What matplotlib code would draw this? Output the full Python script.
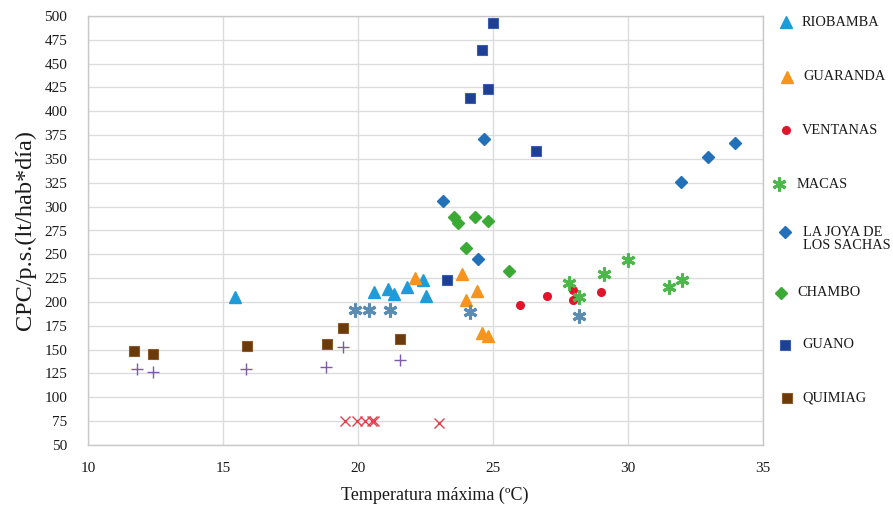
import matplotlib
matplotlib.use("Agg")
import matplotlib.pyplot as plt
from matplotlib.lines import Line2D

plt.rcParams['font.family'] = ['Liberation Serif', 'DejaVu Serif']

# ---- data (Temperatura máxima, CPC) ----
riobamba_x = [15.45, 20.6, 21.1, 21.35, 21.8, 22.4, 22.5]
riobamba_y = [205, 210, 214, 208, 216, 223, 206]
guaranda_x = [22.1, 23.85, 24.4, 24.0, 24.6, 24.8]
guaranda_y = [225, 229, 212, 202, 167, 164]
ventanas_x = [26.0, 27.0, 27.95, 27.95, 29.0]
ventanas_y = [197, 206, 213, 202, 211]
macas_x = [27.8, 28.2, 29.1, 30.0, 31.5, 32.0]
macas_y = [220, 205, 229, 244, 216, 223]
lajoya_x = [23.15, 24.45, 24.65, 31.95, 32.95, 33.95]
lajoya_y = [306, 245, 371, 326, 352, 367]
chambo_x = [23.55, 23.7, 24.35, 24.8, 24.0, 25.6]
chambo_y = [289, 283, 289, 285, 257, 233]
guano_x = [25.0, 24.6, 24.8, 24.15, 26.6, 23.3]
guano_y = [493, 464, 423, 414, 358, 223]
quimiag_x = [11.7, 12.4, 15.9, 18.85, 19.45, 21.55]
quimiag_y = [149, 145, 154, 156, 173, 161]
plus_x = [11.8, 12.4, 15.85, 18.8, 19.45, 21.55]
plus_y = [130, 127, 130, 132, 153, 139]
cross_x = [19.5, 19.95, 20.25, 20.5, 20.6, 23.0]
cross_y = [75, 75, 75, 75, 75, 73]
steel_x = [19.9, 20.4, 21.2, 24.15, 28.2]
steel_y = [192, 192, 192, 189, 185]

x_ticks = [10, 15, 20, 25, 30, 35]
y_ticks = list(range(50, 501, 25))

ASTER = (6, 2, 0)

series = [
    ("RIOBAMBA", riobamba_x, riobamba_y, dict(marker='^', color='#1f9bd7', ms=9, mec='#1f9bd7')),
    ("GUARANDA", guaranda_x, guaranda_y, dict(marker='^', color='#f7941d', ms=9, mec='#f7941d')),
    ("VENTANAS", ventanas_x, ventanas_y, dict(marker='o', color='#e0142a', ms=5.5, mec='#e0142a')),
    ("MACAS", macas_x, macas_y, dict(marker=ASTER, color='#4cb84c', ms=10, mew=2.2, mec='#4cb84c')),
    ("LA JOYA DE\nLOS SACHAS", lajoya_x, lajoya_y, dict(marker='D', color='#2270b8', ms=6.5, mec='#2270b8')),
    ("CHAMBO", chambo_x, chambo_y, dict(marker='D', color='#3aaa35', ms=6.5, mec='#3aaa35')),
    ("GUANO", guano_x, guano_y, dict(marker='s', color='#1f3f94', ms=7.5, mec='#3a5fb0', mew=0.8)),
    ("QUIMIAG", quimiag_x, quimiag_y, dict(marker='s', color='#6b3a0c', ms=7.5, mec='#8a5a2a', mew=0.8)),
]

fig = plt.figure(figsize=(8.93, 5.16), dpi=100)
W, H = 893, 516
ax = fig.add_axes([88 / W, 1 - 445 / H, (763 - 88) / W, (445 - 16) / H])

for lab, xs, ys, st in series:
    ax.plot(xs, ys, linestyle='none', zorder=3, **st)

ax.plot(plus_x, plus_y, linestyle='none', marker='+', color='#7d5ba6', ms=8, mew=1.0, zorder=3)
ax.plot(cross_x, cross_y, linestyle='none', marker='x', color='#e2404f', ms=7, mew=1.0, zorder=3)
ax.plot(steel_x, steel_y, linestyle='none', marker=ASTER, color='#5b8db3', ms=10, mew=2.2, zorder=3)

ax.set_xlim(10, 35)
ax.set_ylim(50, 500)
ax.set_xticks(x_ticks)
ax.set_yticks(y_ticks)
ax.grid(True, color='#dcdcdc', linewidth=1.0, zorder=0)
ax.set_axisbelow(True)
for s in ax.spines.values():
    s.set_color('#c8c8c8')
    s.set_linewidth(1.0)
ax.tick_params(axis='both', length=0, labelsize=11, colors='#1a1a1a')
ax.tick_params(axis='x', pad=12)
ax.tick_params(axis='y', pad=15)
ax.set_xlabel("Temperatura máxima (ºC)", fontsize=13, color='#1a1a1a', labelpad=9, x=0.514)
ax.set_ylabel("CPC/p.s.(lt/hab*día)", fontsize=17.5, color='#1a1a1a', labelpad=6)

# legend entries placed to the right of the plot (marker x, text x, marker y, text y)
leg_pos = [
    (786, 802, 22, 22),
    (787, 803, 77, 77),
    (786, 802, 130, 130),
    (779, 797, 184, 184),
    (785, 803, 232, 239),
    (781, 797, 293, 293),
    (785, 802, 345, 345),
    (787, 802, 398, 398),
]
for (lab, xs, ys, st), (mx, tx, my, ty) in zip(series, leg_pos):
    fig.add_artist(Line2D([mx / W], [1 - my / H], transform=fig.transFigure,
                          linestyle='none', **st))
    fig.text(tx / W, 1 - ty / H, lab, fontsize=10.4, color='#1a1a1a',
             va='center', ha='left', linespacing=0.95)

fig.savefig("out.png", dpi=100)
